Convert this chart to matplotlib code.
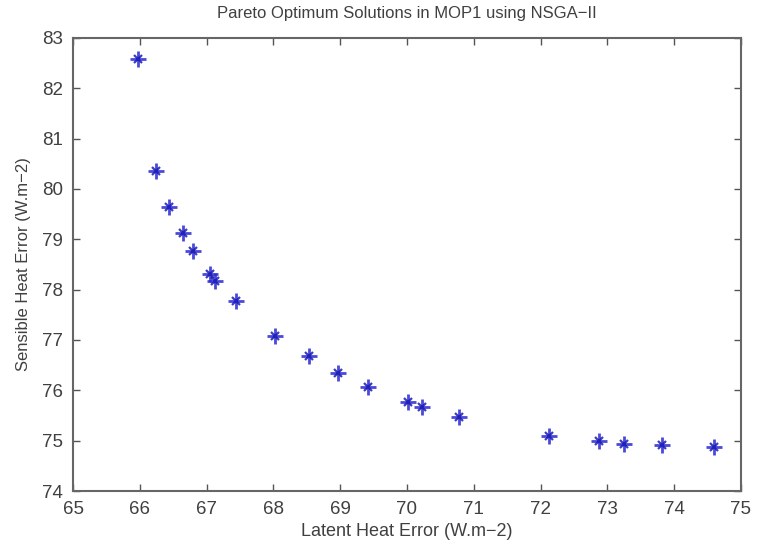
import matplotlib
matplotlib.use("Agg")
import matplotlib.pyplot as plt

plt.rcParams['font.family'] = ['Liberation Sans', 'DejaVu Sans']

latent = [65.98, 66.24, 66.44, 66.64, 66.80, 67.05, 67.13, 67.44, 68.03, 68.54,
          68.96, 69.42, 70.01, 70.23, 70.78, 72.12, 72.88, 73.25, 73.82, 74.60]
sensible = [82.58, 80.36, 79.65, 79.12, 78.77, 78.31, 78.17, 77.77, 77.08, 76.68,
            76.35, 76.06, 75.76, 75.66, 75.47, 75.10, 75.00, 74.94, 74.91, 74.88]
xticks = list(range(65, 76))
yticks = list(range(74, 84))

fig = plt.figure(figsize=(7.59, 5.44), dpi=100)
ax = fig.add_axes([0.0962, 0.0974, 0.880, 0.833])
ax.plot(latent, sensible, linestyle='none', marker='+', markersize=11,
        color='#2a2ad0', markeredgewidth=2.0, alpha=0.85)
ax.plot(latent, sensible, linestyle='none', marker='x', markersize=6,
        color='#1a1ab8', markeredgewidth=1.6, alpha=0.85)
ax.set_xlim(65, 75)
ax.set_ylim(74, 83)
ax.set_xticks(xticks)
ax.set_yticks(yticks)
tc = '#404040'
ax.tick_params(direction='in', top=True, right=True, length=5, width=1,
               colors='#555555', labelcolor=tc, labelsize=13.5, pad=7)
for s in ax.spines.values():
    s.set_color('#666666')
    s.set_linewidth(1.5)
ax.set_xlabel('Latent Heat Error (W.m\u22122)', fontsize=13, color=tc, labelpad=4)
ax.set_ylabel('Sensible Heat Error (W.m\u22122)', fontsize=12, color=tc, labelpad=8)
ax.set_title('Pareto Optimum Solutions in MOP1 using NSGA\u2212II', fontsize=12,
             color=tc, pad=14)
fig.savefig('out.png', dpi=100)
